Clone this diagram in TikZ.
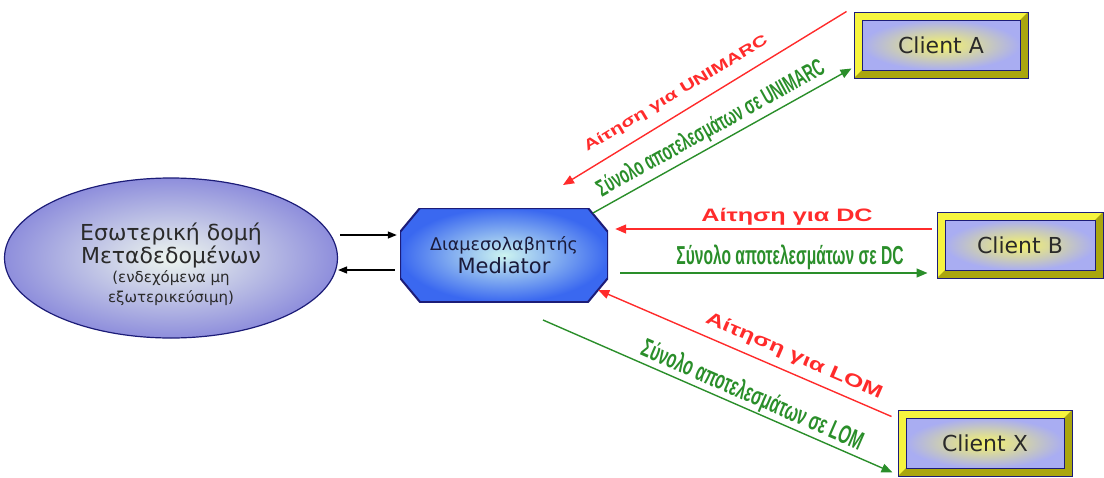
\documentclass[tikz,border=0pt]{standalone}
\usepackage{fontspec}
\usepackage{graphicx}
\setmainfont{DejaVu Sans}
\newfontfamily\reqfont{Liberation Sans}[FakeStretch=1.4]
\newfontfamily\resfont{Liberation Sans}
\newcommand{\narrowtext}[1]{\scalebox{0.6}[1]{#1}}
\usetikzlibrary{shapes.geometric, arrows.meta, positioning, calc}
\usepackage{xcolor}
\definecolor{navyline}{HTML}{1c1c78}
\definecolor{dbcore}{HTML}{eef6ee}
\definecolor{dbedge}{HTML}{8e8edc}
\definecolor{medcore}{HTML}{cdf4f0}
\definecolor{mededge}{HTML}{3a68f0}
\definecolor{medtext}{HTML}{1a1a3a}
\definecolor{bevellight}{HTML}{f6f43e}
\definecolor{beveldark}{HTML}{aaa60e}
\definecolor{clientcore}{HTML}{f6f46a}
\definecolor{clientedge}{HTML}{a9adf2}
\definecolor{reqred}{HTML}{ff2b2b}
\definecolor{resgreen}{HTML}{2a8e2a}
\definecolor{textgrey}{HTML}{2a2a2a}
\tikzset{
  dbnode/.style={ellipse, draw=navyline, line width=1.2pt,
                 inner color=dbcore, outer color=dbedge,
                 minimum width=333pt, minimum height=160pt,
                 align=center, text=textgrey},
  mediator/.style={rectangle, minimum width=208pt, minimum height=94pt,
                   align=center, text=medtext,
                   path picture={
                     \shade[draw=navyline, line width=2pt, inner color=medcore,
                            outer color=mededge]
                       ([xshift=20pt]path picture bounding box.north west)
                       -- ([xshift=-20pt]path picture bounding box.north east)
                       -- ([yshift=-24pt]path picture bounding box.north east)
                       -- ([yshift=24pt]path picture bounding box.south east)
                       -- ([xshift=-20pt]path picture bounding box.south east)
                       -- ([xshift=20pt]path picture bounding box.south west)
                       -- ([yshift=24pt]path picture bounding box.south west)
                       -- ([yshift=-24pt]path picture bounding box.north west)
                       -- cycle;
                   }},
  clientbox/.style={rectangle, draw=navyline, line width=1pt, fill=bevellight,
                    minimum width=174pt, minimum height=66pt, text=textgrey,
                    font=\fontsize{22}{26}\selectfont,
                    path picture={
                      \fill[beveldark] (path picture bounding box.north east)
                        -- (path picture bounding box.south east)
                        -- (path picture bounding box.south west)
                        -- ([shift={(8pt,8pt)}]path picture bounding box.south west)
                        -- ([shift={(-8pt,8pt)}]path picture bounding box.south east)
                        -- ([shift={(-8pt,-8pt)}]path picture bounding box.north east)
                        -- cycle;
                      \shade[draw=navyline, line width=1pt, inner color=clientcore,
                             outer color=clientedge]
                        ([shift={(8pt,-8pt)}]path picture bounding box.north west)
                        rectangle ([shift={(-8pt,8pt)}]path picture bounding box.south east);
                    }},
  flow/.style={->, line width=1.3pt, >={Triangle[length=9pt,width=7pt]}, draw=black},
  req/.style={->, line width=1.4pt, >={Triangle[length=11pt,width=9pt]}, draw=reqred},
  res/.style={->, line width=1.4pt, >={Triangle[length=11pt,width=9pt]}, draw=resgreen},
  reqlbl/.style={font=\reqfont\bfseries\fontsize{18}{18}\selectfont, text=reqred, inner sep=0pt},
  reslbl/.style={font=\resfont\bfseries\fontsize{26}{26}\selectfont, text=resgreen, inner sep=0pt},
}

\begin{document}
\begin{tikzpicture}[x=1pt, y=-1pt]
  \useasboundingbox (0,0) rectangle (1104,477);

  % --- Internal metadata store and mediator ---
  \node[dbnode] (db) at (171,258)
    {\fontsize{22}{24}\selectfont\rule{0pt}{30pt}Εσωτερική δομή\\
     \fontsize{22}{24}\selectfont Μεταδεδομένων\\[1pt]
     \fontsize{15}{20}\selectfont (ενδεχόμενα μη\\[4pt]
     \fontsize{15}{20}\selectfont εξωτερικεύσιμη)};
  \node[mediator] (med) at (504,255)
    {\fontsize{17.5}{20}\selectfont Διαμεσολαβητής\\[2pt]
     \fontsize{21}{24}\selectfont Mediator};

  \draw[flow] ([shift={(2pt,23pt)}]db.east) -- ([shift={(-3pt,20pt)}]med.west);
  \draw[flow] ([shift={(-5pt,-15pt)}]med.west) -- ([shift={(0pt,-12pt)}]db.east);

  % --- Clients ---
  \node[clientbox] (cA) at (941,45)  {Client A};
  \node[clientbox, minimum width=166pt] (cB) at (1020,245) {Client B};
  \node[clientbox] (cX) at (985,443) {Client X};

  % Free ends near the mediator
  \coordinate (rAend)   at (563,185);
  \coordinate (gAstart) at (593,213);
  \coordinate (gXstart) at (543,320);

  % --- Client A: UNIMARC ---
  \draw[req] ([xshift=-7pt]cA.north west) -- (rAend);
  \draw[res] (gAstart) -- ([shift={(-2pt,10pt)}]cA.south west);
  \node[reqlbl, font=\reqfont\bfseries\fontsize{15}{15}\selectfont, rotate=31]
    (lreqA) at (676,94) {Αίτηση για UNIMARC};
  \node[reslbl, font=\resfont\bfseries\fontsize{24}{24}\selectfont, rotate=29]
    (lresA) at (711,129) {\narrowtext{Σύνολο αποτελεσμάτων σε UNIMARC}};

  % --- Client B: DC ---
  \draw[req] ([shift={(-5pt,16pt)}]cB.west) -- ([shift={(7pt,26pt)}]med.east);
  \draw[res] ([shift={(12pt,-18pt)}]med.east) -- ([shift={(-9pt,-28pt)}]cB.west);
  \node[reqlbl] (lreqB) at (787,217) {Αίτηση για DC};
  \node[reslbl] (lresB) at (790,257) {\narrowtext{Σύνολο αποτελεσμάτων σε DC}};

  % --- Client X: LOM ---
  \draw[req] ([shift={(-6pt,-7pt)}]cX.north west) -- ([shift={(-10pt,-35pt)}]med.east);
  \draw[res] (gXstart) -- ([shift={(-5pt,4pt)}]cX.south west);
  \node[reqlbl, rotate=-23.5] (lreqX) at (794,356) {Αίτηση για LOM};
  \node[reslbl, rotate=-23.5] (lresX) at (752,396) {\narrowtext{Σύνολο αποτελεσμάτων σε LOM}};

\end{tikzpicture}
\end{document}
